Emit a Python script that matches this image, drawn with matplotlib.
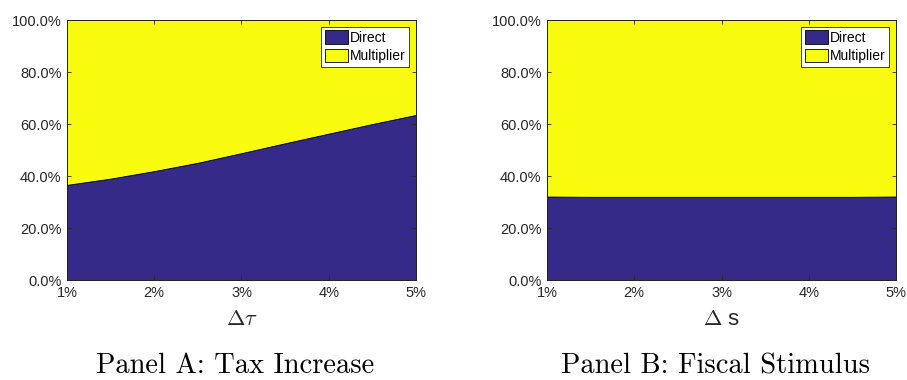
import matplotlib
matplotlib.use("Agg")
import matplotlib.pyplot as plt
from matplotlib.ticker import FuncFormatter

plt.rcParams['mathtext.fontset'] = 'cm'
plt.rcParams['font.family'] = ['Liberation Sans', 'DejaVu Sans']

# Data
x_pct = [1.0, 1.5, 2.0, 2.5, 3.0, 3.5, 4.0, 4.5, 5.0]
direct_tax = [36.6, 39.0, 41.9, 45.1, 48.8, 52.6, 56.3, 60.0, 63.5]
direct_stim = [32.1, 32.0, 32.0, 32.0, 32.0, 32.0, 32.0, 32.0, 32.1]
x_ticks = [1, 2, 3, 4, 5]
x_tick_labels = ['1%', '2%', '3%', '4%', '5%']
y_ticks = [0, 20, 40, 60, 80, 100]
series_labels = ['Direct', 'Multiplier']
panel_titles = ['Panel A: Tax Increase', 'Panel B: Fiscal Stimulus']
x_labels = [r'$\Delta\tau$', r'$\Delta$ s']

c_direct = '#352a87'
c_mult = '#f9fb0e'

fig = plt.figure(figsize=(9.07, 3.8), dpi=100)
lefts = [67/907, 547/907]
w = 349/907
b = 1 - 280/380
h = 260/380

for i, direct in enumerate([direct_tax, direct_stim]):
    ax = fig.add_axes([lefts[i], b, w, h])
    mult = [100 - d for d in direct]
    ax.stackplot(x_pct, direct, mult, colors=[c_direct, c_mult], labels=series_labels,
                 edgecolor='black', linewidth=0.6)
    ax.set_xlim(1, 5)
    ax.set_ylim(0, 100)
    ax.set_xticks(x_ticks)
    ax.set_xticklabels(x_tick_labels)
    ax.set_yticks(y_ticks)
    ax.yaxis.set_major_formatter(FuncFormatter(lambda v, p: f'{v:.1f}%'))
    ax.tick_params(direction='in', top=True, right=True, labelsize=10.5,
                   colors='#262626', length=3, width=0.6)
    ax.tick_params(axis='x', pad=4)
    ax.tick_params(axis='y', pad=4)
    for s in ax.spines.values():
        s.set_color('#262626')
        s.set_linewidth(0.6)
    ax.set_xlabel(x_labels[i], fontsize=16, color='#262626', labelpad=7)
    leg = ax.legend(loc='upper right', fontsize=10, frameon=True, fancybox=False,
                    framealpha=1, edgecolor='#262626', borderpad=0.25, labelspacing=0.3,
                    handlelength=1.65, handleheight=1.1, handletextpad=0.15,
                    borderaxespad=0.5)
    leg.get_frame().set_linewidth(0.6)
    fig.text(lefts[i] + w/2 - 6/907, 1 - 366/380, panel_titles[i], ha='center', va='center',
             fontsize=20.5, family='cmr10')

fig.savefig('out.png', dpi=100)
